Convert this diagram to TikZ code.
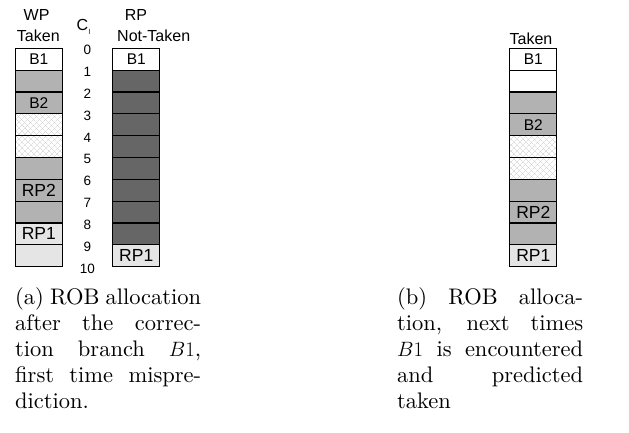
\documentclass[tikz,border=0pt]{standalone}
\usepackage{fontspec}
\newfontfamily\hv{Liberation Sans}
\newfontfamily\capfont{lmroman10-regular.otf}
\usetikzlibrary{patterns.meta}
\definecolor{midgray}{gray}{0.70}
\definecolor{darkgray2}{gray}{0.40}
\definecolor{lightgray2}{gray}{0.90}
\definecolor{hatchgray}{gray}{0.80}
\begin{document}
\begin{tikzpicture}[x=1pt,y=-1pt,
  cell/.style={draw=black, line width=1.2pt, minimum width=47pt, minimum height=21.84pt, inner sep=0pt, font=\hv\fontsize{15.5}{15.5}\selectfont},
  bigtext/.style={font=\hv\fontsize{17.5}{17.5}\selectfont},
  wcell/.style={cell, fill=white},
  mcell/.style={cell, fill=midgray},
  dcell/.style={cell, fill=darkgray2},
  lcell/.style={cell, fill=lightgray2},
  hcell/.style={cell, fill=white,
    postaction={pattern={Lines[angle=45,distance=4pt,line width=0.4pt]}, pattern color=hatchgray},
    postaction={pattern={Lines[angle=-45,distance=4pt,line width=0.4pt]}, pattern color=hatchgray},
    postaction={draw=black, line width=1.2pt}},
  num/.style={font=\hv\fontsize{13.5}{13.5}\selectfont, inner sep=0pt},
  hdr/.style={font=\hv\fontsize{16}{16}\selectfont, inner sep=0pt},
  captxt/.style={font=\capfont\fontsize{22.5}{26}\selectfont, inner sep=0pt, anchor=base west}]
\useasboundingbox (0,0) rectangle (629,432);
% headers
\node[hdr] (wp) at (36.6,15) {WP};
\node[hdr] (wptaken) at (38.3,35.5) {Taken};
\node[hdr] (ci) at (82.5,25) {C};
\node[font=\hv\fontsize{7}{7}\selectfont, inner sep=0pt] (cisub) at (89.5,32) {l};
\node[hdr] (rp) at (136,15) {RP};
\node[hdr] (rpnt) at (153.7,36) {Not-Taken};
\node[hdr] (rtaken) at (531,38.7) {Taken};
% left stack (WP)
\node[wcell] (L0) at (38.8,59.22) {B1};
\node[mcell] (L1) at (38.8,81.06) {};
\node[mcell] (L2) at (38.8,102.90) {B2};
\node[hcell] (L3) at (38.8,124.74) {};
\node[hcell] (L4) at (38.8,146.58) {};
\node[mcell] (L5) at (38.8,168.42) {};
\node[mcell,bigtext] (L6) at (38.8,190.26) {RP2};
\node[mcell] (L7) at (38.8,212.10) {};
\node[lcell,bigtext] (L8) at (38.8,233.94) {RP1};
\node[lcell] (L9) at (38.8,255.78) {};
% RP stack
\node[wcell] (R0) at (136.25,59.22) {B1};
\node[dcell] (R1) at (136.25,81.06) {};
\node[dcell] (R2) at (136.25,102.90) {};
\node[dcell] (R3) at (136.25,124.74) {};
\node[dcell] (R4) at (136.25,146.58) {};
\node[dcell] (R5) at (136.25,168.42) {};
\node[dcell] (R6) at (136.25,190.26) {};
\node[dcell] (R7) at (136.25,212.10) {};
\node[dcell] (R8) at (136.25,233.94) {};
\node[lcell,bigtext] (R9) at (136.25,255.78) {RP1};
% numbers
\node[num] (n0) at (87.3,50) {0};
\node[num] (n1) at (87.3,71.85) {1};
\node[num] (n2) at (87.3,93.7) {2};
\node[num] (n3) at (87.3,115.55) {3};
\node[num] (n4) at (87.3,137.4) {4};
\node[num] (n5) at (87.3,159.25) {5};
\node[num] (n6) at (87.3,181.1) {6};
\node[num] (n7) at (87.3,202.95) {7};
\node[num] (n8) at (87.3,224.8) {8};
\node[num] (n9) at (87.3,246.65) {9};
\node[num] (n10) at (87.3,268.5) {10};
% right figure stack
\node[wcell] (S0) at (533.35,59.22) {B1};
\node[wcell] (S1) at (533.35,81.06) {};
\node[mcell] (S2) at (533.35,102.90) {};
\node[mcell] (S3) at (533.35,124.74) {B2};
\node[hcell] (S4) at (533.35,146.58) {};
\node[hcell] (S5) at (533.35,168.42) {};
\node[mcell] (S6) at (533.35,190.26) {};
\node[mcell,bigtext] (S7) at (533.35,212.10) {RP2};
\node[mcell] (S8) at (533.35,233.94) {};
\node[lcell,bigtext] (S9) at (533.35,255.78) {RP1};
% captions
\node[captxt] (ca1) at (15,304) {\makebox[186pt][s]{(a) ROB allocation}};
\node[captxt] (ca2) at (15,330) {\makebox[186pt][s]{after the correc-}};
\node[captxt] (ca3) at (15,356) {\makebox[186pt][s]{tion branch $B1$,}};
\node[captxt] (ca4) at (15,382) {\makebox[186pt][s]{first time mispre-}};
\node[captxt] (ca5) at (15,408) {diction.};
\node[captxt] (cb1) at (397,304) {\makebox[186pt][s]{(b) ROB alloca-}};
\node[captxt] (cb2) at (397,330) {\makebox[186pt][s]{tion, next times}};
\node[captxt] (cb3) at (397,356) {\makebox[186pt][s]{$B1$ is encountered}};
\node[captxt] (cb4) at (397,382) {\makebox[186pt][s]{and predicted}};
\node[captxt] (cb5) at (397,408) {taken};
\end{tikzpicture}
\end{document}
